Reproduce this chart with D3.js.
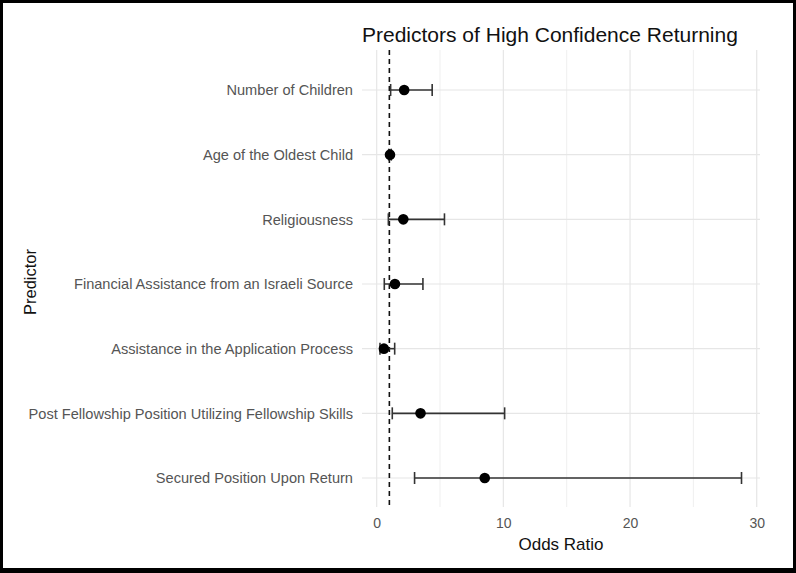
<!DOCTYPE html>
<html><head><meta charset="utf-8">
<script src="https://cdn.jsdelivr.net/npm/d3@7"></script>
<style>html,body{margin:0;padding:0;background:#fff}</style>
</head><body>
<svg id="chart" width="796" height="573"></svg>
<script>
const predictors = ["Number of Children","Age of the Oldest Child","Religiousness","Financial Assistance from an Israeli Source","Assistance in the Application Process","Post Fellowship Position Utilizing Fellowship Skills","Secured Position Upon Return"];
const oddsRatio = [2.17, 1.05, 2.1, 1.44, 0.57, 3.46, 8.53];
const ciLower   = [1.1, 0.95, 0.92, 0.6, 0.26, 1.23, 2.99];
const ciUpper   = [4.38, 1.15, 5.35, 3.65, 1.42, 10.1, 28.8];
const xTicks = [0, 10, 20, 30];
const xMinor = [5, 15, 25];
const refLine = 1;

const svg = d3.select("#chart");
const font = "'Liberation Sans', Arial, sans-serif";
const panel = {left: 362, right: 760, top: 50, bottom: 507};

const x = d3.scaleLinear().domain([-1.16, 30.26]).range([panel.left, panel.right]);
const y = d3.scalePoint().domain(predictors).range([90, 478]);

// frame
svg.append("rect").attr("x",1.5).attr("y",1.5).attr("width",793).attr("height",569)
  .attr("fill","#fff").attr("stroke","#000").attr("stroke-width",3);
svg.append("line").attr("x1",0).attr("x2",796).attr("y1",570.5).attr("y2",570.5).attr("stroke","#000").attr("stroke-width",5);

const g = svg.append("g");
// grid
g.selectAll(".minor").data(xMinor).join("line")
  .attr("x1",d=>x(d)).attr("x2",d=>x(d)).attr("y1",panel.top).attr("y2",panel.bottom)
  .attr("stroke","#efefef").attr("stroke-width",1);
g.selectAll(".major").data(xTicks).join("line")
  .attr("x1",d=>x(d)).attr("x2",d=>x(d)).attr("y1",panel.top).attr("y2",panel.bottom)
  .attr("stroke","#e6e6e6").attr("stroke-width",1.2);
g.selectAll(".hgrid").data(predictors).join("line")
  .attr("x1",panel.left).attr("x2",panel.right).attr("y1",d=>y(d)).attr("y2",d=>y(d))
  .attr("stroke","#e6e6e6").attr("stroke-width",1.2);

// reference line
g.append("line").attr("x1",x(refLine)).attr("x2",x(refLine)).attr("y1",panel.top).attr("y2",panel.bottom)
  .attr("stroke","#111").attr("stroke-width",1.6).attr("stroke-dasharray","5,4");

// error bars
const idx = d3.range(predictors.length);
const cap = 6;
const eb = g.selectAll(".eb").data(idx).join("g").attr("stroke","#333").attr("stroke-width",1.6);
eb.append("line").attr("x1",i=>x(ciLower[i])).attr("x2",i=>x(ciUpper[i])).attr("y1",i=>y(predictors[i])).attr("y2",i=>y(predictors[i]));
eb.append("line").attr("x1",i=>x(ciLower[i])).attr("x2",i=>x(ciLower[i])).attr("y1",i=>y(predictors[i])-cap).attr("y2",i=>y(predictors[i])+cap);
eb.append("line").attr("x1",i=>x(ciUpper[i])).attr("x2",i=>x(ciUpper[i])).attr("y1",i=>y(predictors[i])-cap).attr("y2",i=>y(predictors[i])+cap);

// points
g.selectAll(".pt").data(idx).join("circle")
  .attr("cx",i=>x(oddsRatio[i])).attr("cy",i=>y(predictors[i])).attr("r",5.3).attr("fill","#000");

// y axis labels
const yAxis = d3.axisLeft(y).tickSize(0).tickPadding(9);
const ya = svg.append("g").attr("transform",`translate(${panel.left},0)`).call(yAxis);
ya.select(".domain").remove();
ya.selectAll("text").attr("font-family",font).attr("font-size",14.6).attr("fill","#555");

// x axis labels
const xAxis = d3.axisBottom(x).tickValues(xTicks).tickSize(0).tickPadding(11);
const xa = svg.append("g").attr("transform",`translate(0,${panel.bottom})`).call(xAxis);
xa.select(".domain").remove();
xa.selectAll("text").attr("font-family",font).attr("font-size",14).attr("fill","#555");

// titles
svg.append("text").attr("x",panel.left).attr("y",42).attr("font-family",font).attr("font-size",21)
  .attr("fill","#111").text("Predictors of High Confidence Returning");
svg.append("text").attr("x",(panel.left+panel.right)/2).attr("y",550).attr("text-anchor","middle")
  .attr("font-family",font).attr("font-size",17).attr("fill","#111").text("Odds Ratio");
svg.append("text").attr("transform",`translate(36,282) rotate(-90)`).attr("text-anchor","middle")
  .attr("font-family",font).attr("font-size",16.5).attr("fill","#111").text("Predictor");
</script>
</body></html>
